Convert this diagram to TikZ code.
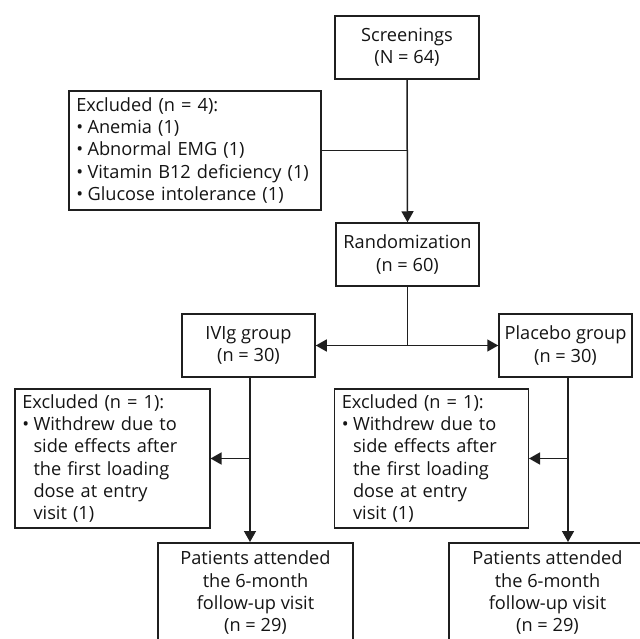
\documentclass[tikz,border=0pt]{standalone}
\usepackage{fontspec}
\setmainfont{Open Sans}
\usetikzlibrary{arrows.meta}
\newcommand{\mybul}{\makebox[0.62em][l]{•}}
\newcommand{\myind}{\hspace*{0.62em}}
\begin{document}
\begin{tikzpicture}[x=1pt,y=-1pt,
  box/.style={draw=black!88, line width=1.5pt, inner sep=0pt, align=center,
    text=black!92, font=\fontsize{18.2}{22.3}\selectfont},
  lbox/.style={box, align=left, anchor=west, inner xsep=7.5pt},
  ln/.style={line width=1.5pt, draw=black!88},
  arr/.style={ln, -{Triangle[length=11pt,width=12pt]}}]
\useasboundingbox (0,0) rectangle (640,639);
\clip (0,0) rectangle (640,639);

\node[box, minimum width=144pt, minimum height=63pt] (scr) at (407,47.5) {Screenings\\(N = 64)};
\node[lbox, minimum height=119pt, text width=237pt] (exa) at (68,150.5)
  {Excluded (n = 4):\\\mybul Anemia (1)\\\mybul Abnormal EMG (1)\\\mybul Vitamin B12 deficiency (1)\\\mybul Glucose intolerance (1)};
\node[box, minimum width=143pt, minimum height=63pt] (rnd) at (407.5,254.5) {Randomization\\(n = 60)};
\node[box, minimum width=133pt, minimum height=63pt] (ivig) at (248.5,345.5) {IVIg group\\(n = 30)};
\node[box, minimum width=133pt, minimum height=63pt] (plac) at (565.5,345.5) {Placebo group\\(n = 30)};
\node[lbox, minimum height=139pt, text width=180pt] (exl) at (14,458.5)
  {Excluded (n = 1):\\\mybul Withdrew due to\\\myind side effects after\\\myind the first loading\\\myind dose at entry\\\myind visit (1)};
\node[lbox, minimum height=139pt, text width=179pt] (exr) at (333.5,458.5)
  {Excluded (n = 1):\\\mybul Withdrew due to\\\myind side effects after\\\myind the first loading\\\myind dose at entry\\\myind visit (1)};
\node[box, anchor=north, minimum width=195pt, minimum height=100pt] (patl) at (255.5,542)
  {Patients attended\\the 6-month\\follow-up visit\\(n = 29)};
\node[box, anchor=north, minimum width=197pt, minimum height=100pt] (patr) at (547.5,542)
  {Patients attended\\the 6-month\\follow-up visit\\(n = 29)};

\coordinate (vl) at (250,0);
\coordinate (vr) at (568,0);

\draw[arr] (scr.south) -- (rnd.north);
\draw[ln] (exa.east) -- (exa.east -| scr.south);
\coordinate (split) at (rnd.south |- ivig.east);
\draw[ln] (rnd.south) -- (split);
\draw[arr] (split) -- (ivig.east);
\draw[arr] (split) -- (plac.west);
\draw[arr] (vl |- ivig.south) -- (vl |- patl.north);
\draw[arr] (vl |- exl.east) -- (exl.east);
\draw[arr] (vr |- plac.south) -- (vr |- patr.north);
\draw[arr] (vr |- exr.east) -- (exr.east);
\end{tikzpicture}
\end{document}
